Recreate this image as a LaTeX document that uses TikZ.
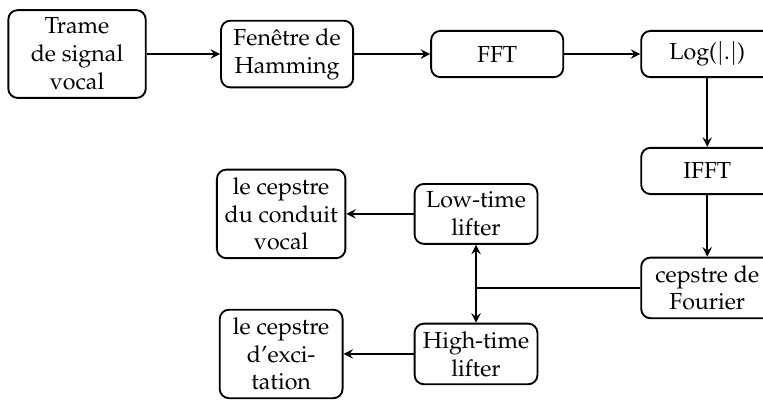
\documentclass[tikz,border=0pt]{standalone}
\usepackage[T1]{fontenc}
\usepackage{mathpazo}
\usetikzlibrary{positioning}

\begin{document}
\begin{tikzpicture}[-,>=stealth,auto,node distance=3.18cm,thick,
  block node/.style={rectangle,rounded corners,draw,thick,align=center,minimum width=2cm,minimum height=0.7cm},
  trame node/.style={rectangle,rounded corners,draw,thick,align=center,minimum width=2.08cm},
  lifter node/.style={rectangle,rounded corners,draw,thick,align=center,minimum width=1.86cm}]

                \useasboundingbox (0,0) rectangle (11.55,-6.04);

                \node[trame node] (1) at (1.166,-0.818) {Trame\\de signal\\vocal};
                \node[block node] (2) [right of = 1] {Fen\^etre de\\Hamming};
                \node[block node] (3) [right of = 2] {FFT};
                \node[block node] (4) [right of = 3] {Log($|.|$)};
                \node[block node] (5) [below of = 4, node distance=1.77cm] {IFFT};
                \node[block node] (6) [below of = 5, node distance=1.77cm] {cepstre de\\Fourier};
                \node[lifter node] (7) [left of = 6, node distance=3.5cm, yshift=1.12cm] {Low-time\\lifter};
                \node[lifter node] (8) [left of = 6, node distance=3.5cm, yshift=-1cm] {High-time\\lifter};
                \node[lifter node] (9) [left of = 7, node distance=2.95cm] {le cepstre\\du conduit\\vocal};
                \node[lifter node] (10) [left of = 8, node distance=2.95cm] {le cepstre\\d'exci-\\tation};

                \draw[->] (1) to (2);
                \draw[->] (2) to (3);
                \draw[->] (3) to (4);
                \draw[->] (4) to (5);
                \draw[->] (5) to (6);

                \draw[->] (6.west) -| (7.south);
                \draw[->] (6.west) -| (8.north);

                \draw[->] (7) to (9);
                \draw[->] (8) to (10);
            \end{tikzpicture}
\end{document}
